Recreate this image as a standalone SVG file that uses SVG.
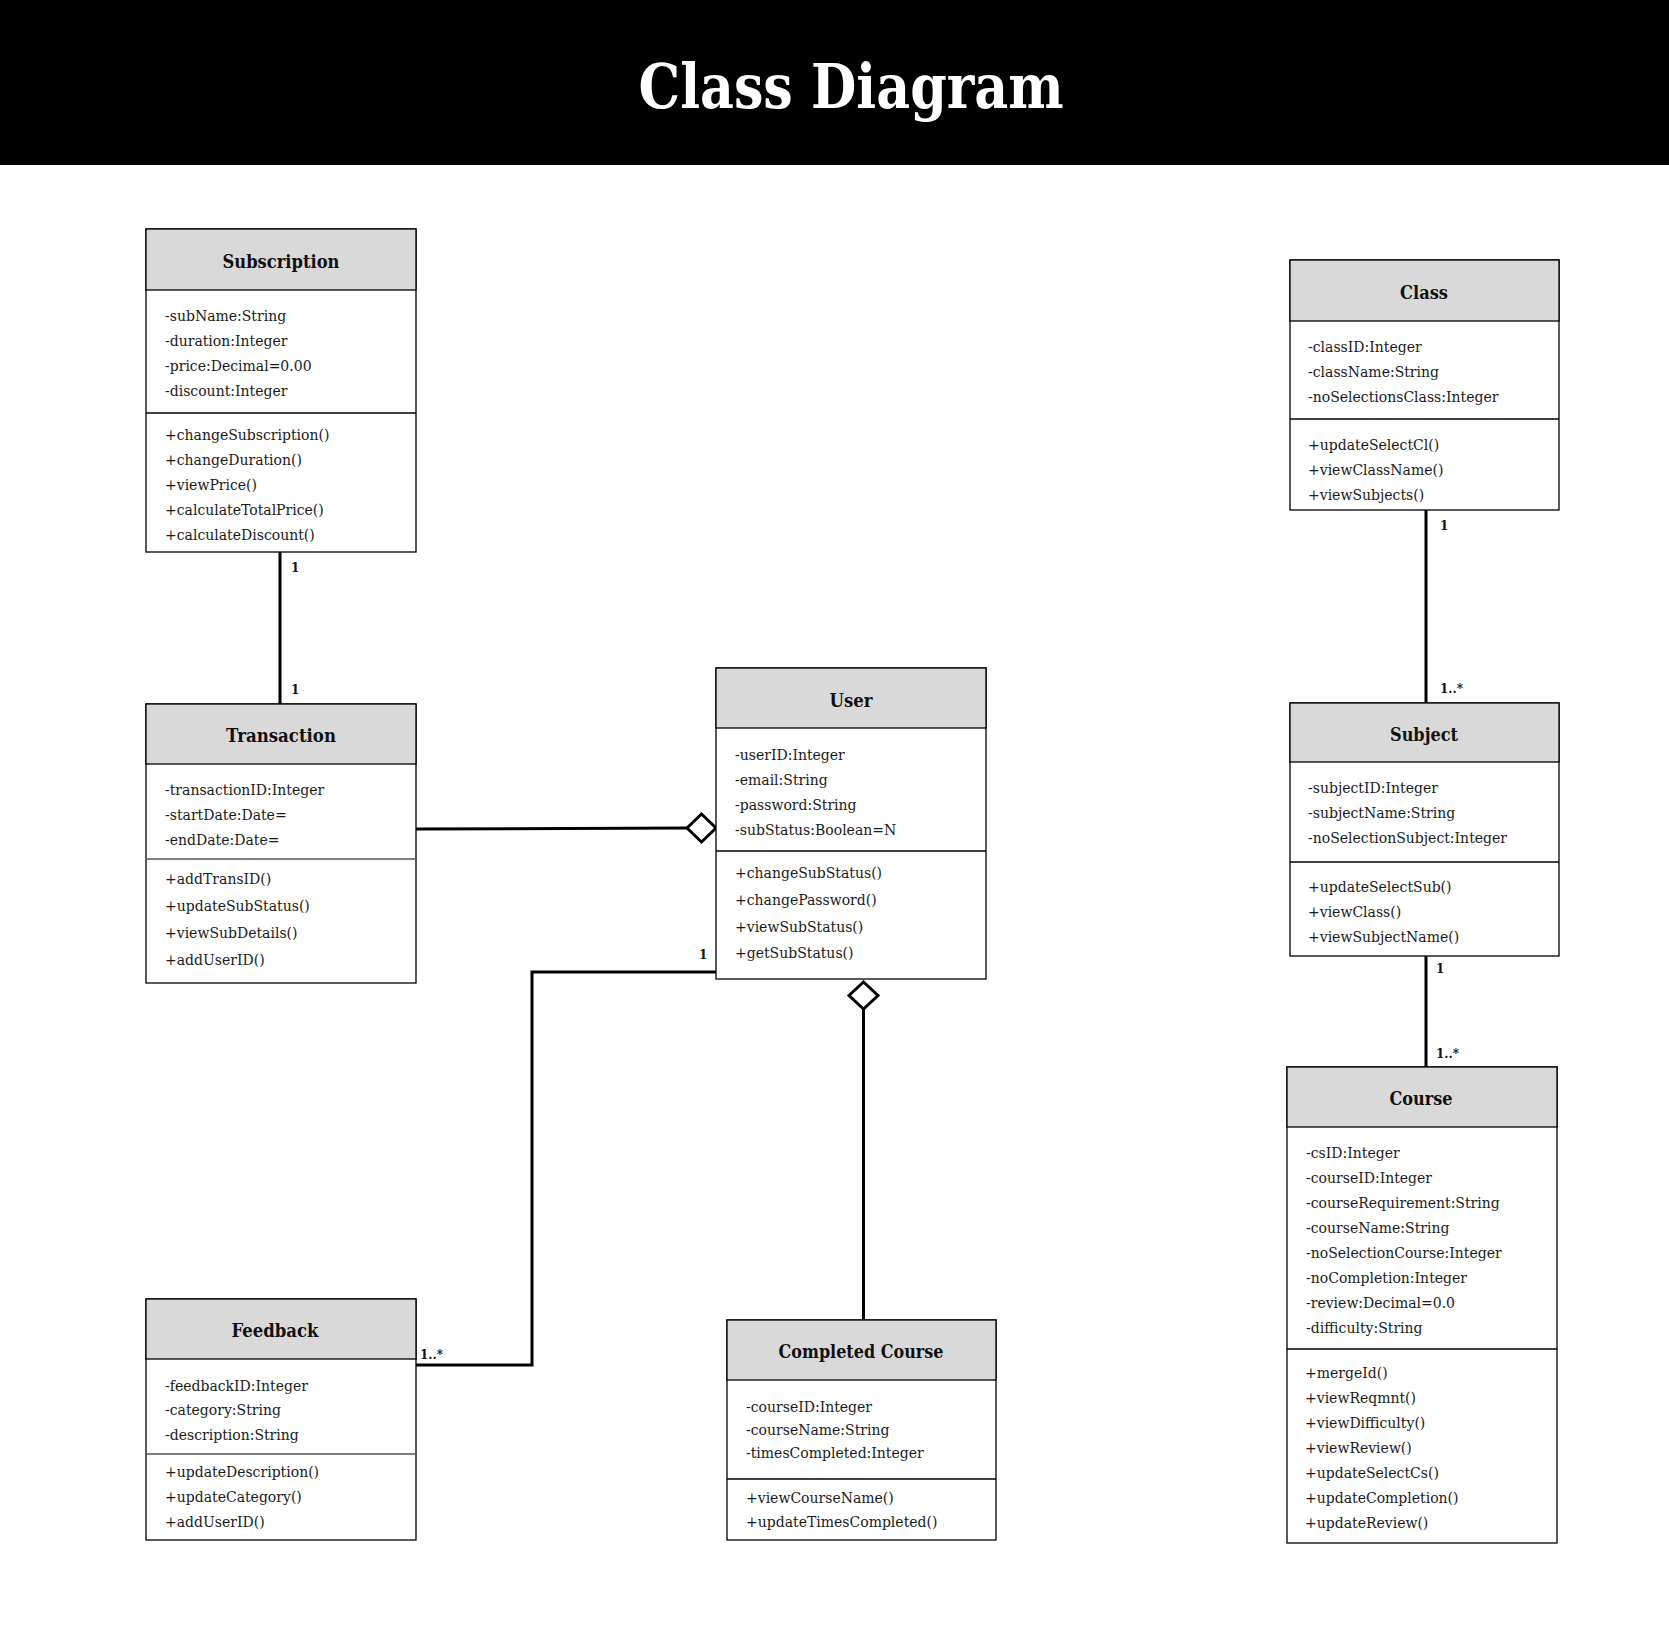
<svg xmlns="http://www.w3.org/2000/svg" width="1669" height="1631" viewBox="0 0 1669 1631">
<style>
.bg{fill:#fff}
.box{fill:#fff;stroke:#000;stroke-width:1.3}
.hdr{fill:#d9d9d9;stroke:#000;stroke-width:1.3}
.dv{stroke:#000;stroke-width:1.3}
.dvg{stroke:#808080;stroke-width:2}
.t{font-family:'DejaVu Serif','Liberation Serif',serif;font-size:14px;fill:#1a1a1a}
.h{font-family:'DejaVu Serif','Liberation Serif',serif;font-size:18px;font-weight:bold;fill:#111;text-anchor:middle}
.m{font-family:'DejaVu Serif','Liberation Serif',serif;font-size:12px;font-weight:bold;fill:#111}
.conn{stroke:#000;stroke-width:3;fill:none}
.dia{fill:#fff;stroke:#000;stroke-width:3}
.title{font-family:'DejaVu Serif','Liberation Serif',serif;font-size:62px;font-weight:bold;fill:#fff;text-anchor:middle}
</style>
<rect class="bg" x="0" y="0" width="1669" height="1631"/>
<g id="header">
<rect x="0" y="0" width="1669" height="165" fill="#000"/>
<text class="title" x="851" y="108" textLength="425" lengthAdjust="spacingAndGlyphs">Class Diagram</text>
</g>
<g id="connectors">
<line class="conn" x1="280" y1="552" x2="280" y2="704"/>
<text class="m" x="291" y="572">1</text>
<text class="m" x="291" y="694">1</text>
<line class="conn" x1="416" y1="829" x2="688" y2="828"/>
<polygon class="dia" points="687,828 701.5,814 716,828 701.5,842"/>
<polyline class="conn" points="716,972 532,972 532,1365 416,1365"/>
<text class="m" x="699" y="959">1</text>
<text class="m" x="420" y="1359">1..*</text>
<line class="conn" x1="863.5" y1="1009" x2="863.5" y2="1320"/>
<polygon class="dia" points="849,995.5 863.5,982 878,995.5 863.5,1009"/>
<line class="conn" x1="1426" y1="510" x2="1426" y2="703"/>
<text class="m" x="1440" y="530">1</text>
<text class="m" x="1440" y="693">1..*</text>
<line class="conn" x1="1426" y1="956" x2="1426" y2="1067"/>
<text class="m" x="1436" y="973">1</text>
<text class="m" x="1436" y="1058">1..*</text>
</g>
<g id="subscription">
<rect class="box" x="146" y="229" width="270" height="323"/>
<rect class="hdr" x="146" y="229" width="270" height="61"/>
<line class="dv" x1="146" y1="413" x2="416" y2="413"/>
<text class="h" x="281" y="268" textLength="117" lengthAdjust="spacingAndGlyphs">Subscription</text>
<text class="t" x="165" y="321">-subName:String</text>
<text class="t" x="165" y="346">-duration:Integer</text>
<text class="t" x="165" y="371">-price:Decimal=0.00</text>
<text class="t" x="165" y="396">-discount:Integer</text>
<text class="t" x="165" y="440">+changeSubscription()</text>
<text class="t" x="165" y="465">+changeDuration()</text>
<text class="t" x="165" y="490">+viewPrice()</text>
<text class="t" x="165" y="515">+calculateTotalPrice()</text>
<text class="t" x="165" y="540">+calculateDiscount()</text>
</g>
<g id="transaction">
<rect class="box" x="146" y="704" width="270" height="279"/>
<rect class="hdr" x="146" y="704" width="270" height="60"/>
<line class="dvg" x1="147" y1="859" x2="415" y2="859"/>
<text class="h" x="281" y="742" textLength="110" lengthAdjust="spacingAndGlyphs">Transaction</text>
<text class="t" x="165" y="795">-transactionID:Integer</text>
<text class="t" x="165" y="820">-startDate:Date=</text>
<text class="t" x="165" y="845">-endDate:Date=</text>
<text class="t" x="165" y="884">+addTransID()</text>
<text class="t" x="165" y="911">+updateSubStatus()</text>
<text class="t" x="165" y="938">+viewSubDetails()</text>
<text class="t" x="165" y="965">+addUserID()</text>
</g>
<g id="user">
<rect class="box" x="716" y="668" width="270" height="311"/>
<rect class="hdr" x="716" y="668" width="270" height="60"/>
<line class="dv" x1="716" y1="851" x2="986" y2="851"/>
<text class="h" x="851" y="707" textLength="43" lengthAdjust="spacingAndGlyphs">User</text>
<text class="t" x="735" y="760">-userID:Integer</text>
<text class="t" x="735" y="785">-email:String</text>
<text class="t" x="735" y="810">-password:String</text>
<text class="t" x="735" y="835">-subStatus:Boolean=N</text>
<text class="t" x="735" y="878">+changeSubStatus()</text>
<text class="t" x="735" y="905">+changePassword()</text>
<text class="t" x="735" y="932">+viewSubStatus()</text>
<text class="t" x="735" y="958">+getSubStatus()</text>
</g>
<g id="feedback">
<rect class="box" x="146" y="1299" width="270" height="241"/>
<rect class="hdr" x="146" y="1299" width="270" height="60"/>
<line class="dvg" x1="147" y1="1454" x2="415" y2="1454"/>
<text class="h" x="275" y="1337" textLength="87" lengthAdjust="spacingAndGlyphs">Feedback</text>
<text class="t" x="165" y="1391">-feedbackID:Integer</text>
<text class="t" x="165" y="1415">-category:String</text>
<text class="t" x="165" y="1440">-description:String</text>
<text class="t" x="165" y="1477">+updateDescription()</text>
<text class="t" x="165" y="1502">+updateCategory()</text>
<text class="t" x="165" y="1527">+addUserID()</text>
</g>
<g id="completed-course">
<rect class="box" x="727" y="1320" width="269" height="220"/>
<rect class="hdr" x="727" y="1320" width="269" height="60"/>
<line class="dv" x1="727" y1="1479" x2="996" y2="1479"/>
<text class="h" x="861" y="1358" textLength="165" lengthAdjust="spacingAndGlyphs">Completed Course</text>
<text class="t" x="746" y="1412">-courseID:Integer</text>
<text class="t" x="746" y="1435">-courseName:String</text>
<text class="t" x="746" y="1458">-timesCompleted:Integer</text>
<text class="t" x="746" y="1503">+viewCourseName()</text>
<text class="t" x="746" y="1527">+updateTimesCompleted()</text>
</g>
<g id="class">
<rect class="box" x="1290" y="260" width="269" height="250"/>
<rect class="hdr" x="1290" y="260" width="269" height="61"/>
<line class="dv" x1="1290" y1="419" x2="1559" y2="419"/>
<text class="h" x="1424" y="299" textLength="48" lengthAdjust="spacingAndGlyphs">Class</text>
<text class="t" x="1308" y="352">-classID:Integer</text>
<text class="t" x="1308" y="377">-className:String</text>
<text class="t" x="1308" y="402">-noSelectionsClass:Integer</text>
<text class="t" x="1308" y="450">+updateSelectCl()</text>
<text class="t" x="1308" y="475">+viewClassName()</text>
<text class="t" x="1308" y="500">+viewSubjects()</text>
</g>
<g id="subject">
<rect class="box" x="1290" y="703" width="269" height="253"/>
<rect class="hdr" x="1290" y="703" width="269" height="59"/>
<line class="dv" x1="1290" y1="862" x2="1559" y2="862"/>
<text class="h" x="1424" y="741" textLength="68" lengthAdjust="spacingAndGlyphs">Subject</text>
<text class="t" x="1308" y="793">-subjectID:Integer</text>
<text class="t" x="1308" y="818">-subjectName:String</text>
<text class="t" x="1308" y="843">-noSelectionSubject:Integer</text>
<text class="t" x="1308" y="892">+updateSelectSub()</text>
<text class="t" x="1308" y="917">+viewClass()</text>
<text class="t" x="1308" y="942">+viewSubjectName()</text>
</g>
<g id="course">
<rect class="box" x="1287" y="1067" width="270" height="476"/>
<rect class="hdr" x="1287" y="1067" width="270" height="60"/>
<line class="dv" x1="1287" y1="1349" x2="1557" y2="1349"/>
<text class="h" x="1421" y="1105" textLength="63" lengthAdjust="spacingAndGlyphs">Course</text>
<text class="t" x="1306" y="1158">-csID:Integer</text>
<text class="t" x="1306" y="1183">-courseID:Integer</text>
<text class="t" x="1306" y="1208">-courseRequirement:String</text>
<text class="t" x="1306" y="1233">-courseName:String</text>
<text class="t" x="1306" y="1258">-noSelectionCourse:Integer</text>
<text class="t" x="1306" y="1283">-noCompletion:Integer</text>
<text class="t" x="1306" y="1308">-review:Decimal=0.0</text>
<text class="t" x="1306" y="1333">-difficulty:String</text>
<text class="t" x="1305" y="1378">+mergeId()</text>
<text class="t" x="1305" y="1403">+viewReqmnt()</text>
<text class="t" x="1305" y="1428">+viewDifficulty()</text>
<text class="t" x="1305" y="1453">+viewReview()</text>
<text class="t" x="1305" y="1478">+updateSelectCs()</text>
<text class="t" x="1305" y="1503">+updateCompletion()</text>
<text class="t" x="1305" y="1528">+updateReview()</text>
</g>
</svg>
